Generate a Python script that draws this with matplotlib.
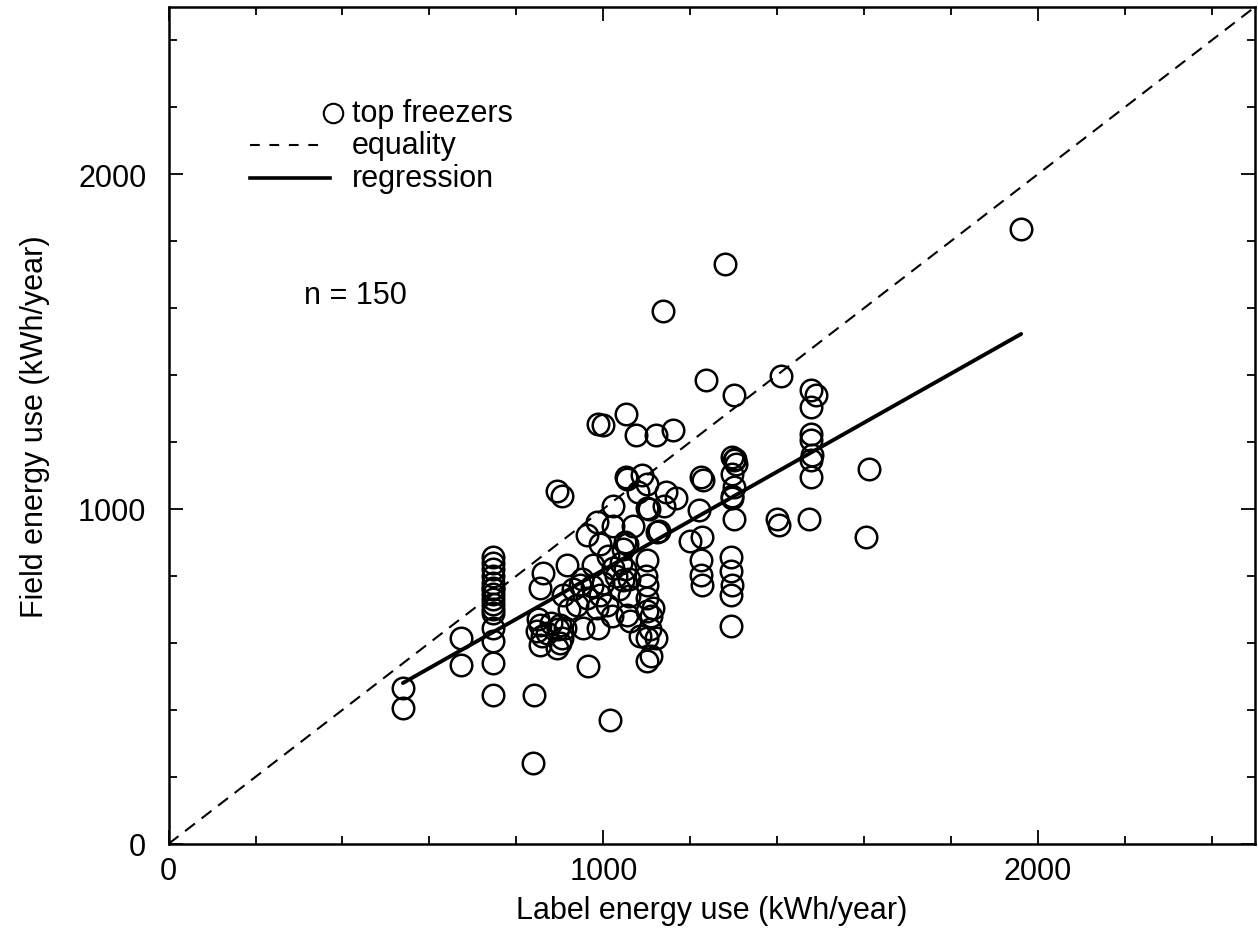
import matplotlib
matplotlib.use('Agg')
import matplotlib.pyplot as plt
import numpy as np
from matplotlib.ticker import MultipleLocator

plt.rcParams['font.family'] = ['Liberation Sans', 'DejaVu Sans']
plt.rcParams['lines.scale_dashes'] = False

# label energy use (kWh/year) vs field energy use (kWh/year), top freezers
label_use = [
    539, 539, 673, 673,
    746, 746, 746, 746, 746, 746, 746, 746, 746, 746, 746, 746, 746, 746,
    841, 839,
    862, 855, 855, 848, 855, 860, 850,
    901, 912, 905, 894, 908, 917, 895, 900,
    954, 988, 947, 963, 993, 986, 1009, 940, 977, 1023, 1046, 965, 1016,
    963, 986, 1023, 1069, 1055, 993, 1124, 1127,
    1062, 1055, 894, 905,
    1053, 988, 1000, 1076, 1120, 1161,
    1051, 1101, 1143, 1166, 1055,
    1023, 1101, 1105,
    1101, 1101, 1101, 1101, 1101, 1120, 1101, 1115, 1108, 1097,
    1138, 1235, 1300, 1408, 1279,
    1477, 1488, 1477, 1477, 1477, 1477, 1477, 1480,
    1611, 1604, 1472,
    1297, 1300, 1305, 1297, 1300, 1297, 1300, 1295, 1302,
    1400, 1403,
    1293, 1293, 1297, 1293, 1293,
    1224, 1230, 1219, 1200, 1228,
    1224, 1224, 1228,
    1961,
    930, 950, 1000, 1030, 1040, 1050, 1060, 1010, 1035, 920, 880, 870,
    1050, 1045, 975, 1085, 1110, 1090, 1080, 1140, 1110, 746, 746, 1060, 1020,
]
field_use = [
    465, 405, 615, 534,
    855, 840, 800, 780, 765, 745, 730, 715, 700, 690, 645, 606, 540, 444,
    444, 240,
    810, 765, 654, 636, 594, 620, 670,
    654, 645, 615, 585, 744, 834, 640, 600,
    645, 645, 774, 735, 744, 705, 714, 714, 834, 825, 789, 531, 369,
    923, 960, 950, 950, 894, 894, 930, 935,
    666, 684, 1055, 1040,
    1283, 1253, 1250, 1220, 1220, 1235,
    1094, 1074, 1050, 1034, 1090,
    1010, 1004, 1000,
    846, 774, 735, 696, 615, 615, 546, 705, 640, 800,
    1592, 1385, 1340, 1397, 1730,
    1355, 1340, 1304, 1223, 1205, 1145, 1094, 1160,
    1118, 915, 969,
    1154, 1145, 1133, 1103, 1064, 1034, 969, 1040, 1150,
    969, 953,
    855, 816, 774, 744, 651,
    1094, 1085, 998, 905, 915,
    846, 804, 774,
    1835,
    760, 790, 780, 800, 840, 820, 790, 860, 760, 700, 660, 630,
    900, 880, 770, 620, 680, 1100, 1050, 1010, 560, 820, 760, 740, 680,
]

# regression fit: field = a + b * label, drawn over the range of labels
reg_a = 85
reg_b = 0.733
reg_range = [539, 1961]

fig = plt.figure(figsize=(12.58, 9.45), dpi=100)
ax = fig.add_axes([0.134, 0.106, 0.864, 0.886])

ax.plot([0, 2500], [0, 2500], color='black', lw=1.5, dashes=(9, 6))
rx = np.array(reg_range)
ax.plot(rx, reg_a + reg_b * rx, color='black', lw=2.8, solid_capstyle='round')
ax.plot(label_use, field_use, 'o', mfc='none', mec='black', ms=15.5, mew=1.8)

ax.set_xlim(0, 2500)
ax.set_ylim(0, 2500)
ax.xaxis.set_major_locator(MultipleLocator(1000))
ax.yaxis.set_major_locator(MultipleLocator(1000))
ax.xaxis.set_minor_locator(MultipleLocator(200))
ax.yaxis.set_minor_locator(MultipleLocator(200))
ax.tick_params(which='both', direction='in', top=True, right=True, width=1.3)
ax.tick_params(which='major', length=10, labelsize=22)
ax.tick_params(which='minor', length=6)
ax.tick_params(axis='x', which='major', pad=9)
ax.tick_params(axis='y', which='major', pad=16)
for s in ax.spines.values():
    s.set_linewidth(1.8)

ax.set_xlabel('Label energy use (kWh/year)', fontsize=22, labelpad=6)
ax.set_ylabel('Field energy use (kWh/year)', fontsize=22, labelpad=20)

# hand-drawn legend
ax.plot([378], [2183], 'o', mfc='none', mec='black', ms=14, mew=1.5)
ax.text(422, 2183, 'top freezers', fontsize=22, va='center')
ax.plot([187, 359], [2087, 2087], color='black', lw=1.5, dashes=(7, 7))
ax.text(422, 2087, 'equality', fontsize=22, va='center')
ax.plot([187, 371], [1988, 1988], color='black', lw=2.6)
ax.text(422, 1988, 'regression', fontsize=22, va='center')

ax.text(312, 1640, 'n = 150', fontsize=22, va='center')

fig.savefig('out.png', dpi=100)
